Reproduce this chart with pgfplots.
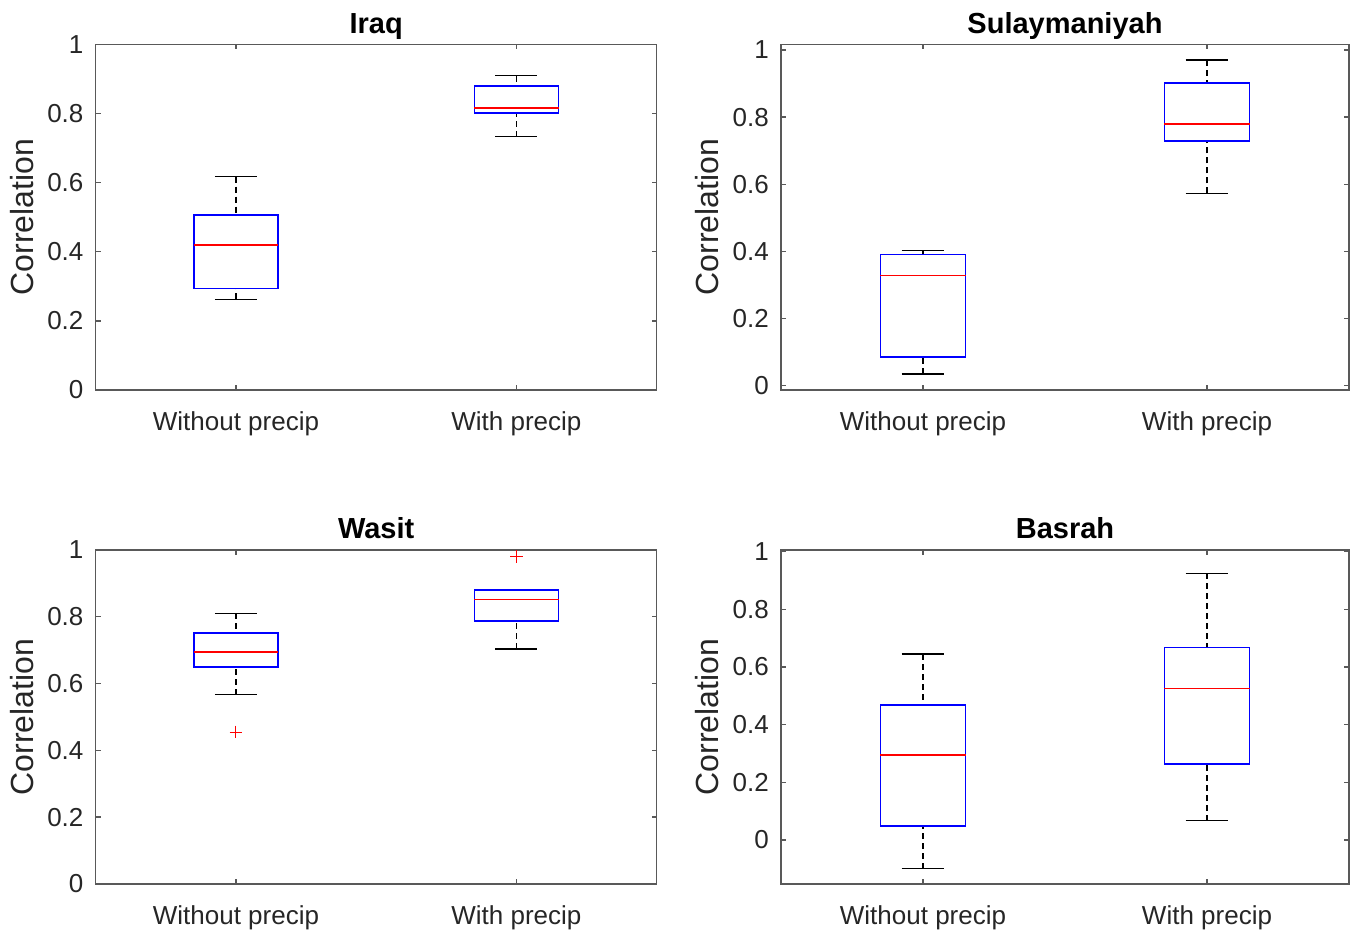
\documentclass[border=0pt]{standalone}
\usepackage{fontspec}
\setmainfont{Liberation Sans}
\usepackage{pgfplots}
\pgfplotsset{compat=1.18}
\usepgfplotslibrary{statistics}
\definecolor{axgray}{gray}{0.35}
\definecolor{txtgray}{gray}{0.15}
\pgfplotsset{
  panel/.style={
    scale only axis,
    xmin=0.5, xmax=2.5,
    xtick={1,2},
    xticklabels={Without precip, With precip},
    ytick={0,0.2,0.4,0.6,0.8,1},
    tick align=inside,
    major tick length=2.6pt,
    axis line style={axgray, line width=0.7pt},
    every tick/.style={axgray, line width=0.7pt},
    /pgf/number format/assume math mode=true,
    tick label style={font=\fontsize{13}{15}\selectfont, text=txtgray},
    xticklabel style={anchor=base, yshift=-20.5pt},
    yticklabel style={anchor=east, xshift=-2.6pt},
    ylabel={Correlation},
    every axis y label/.style={at={(axis description cs:0,0.5)}, xshift=-37pt, rotate=90, anchor=center, font=\fontsize{16}{18}\selectfont, text=txtgray},
    title style={at={(axis description cs:0.5,1)}, anchor=base, yshift=-0.5pt, font=\fontsize{14.5}{16}\selectfont\bfseries, text=black},
    boxplot/draw direction=y,
    boxplot/box extend=0.3,
    boxplot/whisker extend=0.15,
    boxplot/every box/.style={draw=blue, line width=0.75pt},
    boxplot/every median/.style={draw=red, line width=0.8pt},
    boxplot/draw/lower whisker/.code={%
      \draw[black, line width=0.75pt, dash pattern=on 3pt off 2pt]
        (boxplot cs:\pgfplotsboxplotvalue{lower whisker}) -- (boxplot cs:\pgfplotsboxplotvalue{lower quartile});
      \draw[black, line width=0.75pt]
        (boxplot whisker cs:\pgfplotsboxplotvalue{lower whisker},0) -- (boxplot whisker cs:\pgfplotsboxplotvalue{lower whisker},1);
    },
    boxplot/draw/upper whisker/.code={%
      \draw[black, line width=0.75pt, dash pattern=on 3pt off 2pt]
        (boxplot cs:\pgfplotsboxplotvalue{upper whisker}) -- (boxplot cs:\pgfplotsboxplotvalue{upper quartile});
      \draw[black, line width=0.75pt]
        (boxplot whisker cs:\pgfplotsboxplotvalue{upper whisker},0) -- (boxplot whisker cs:\pgfplotsboxplotvalue{upper whisker},1);
    },
  },
  bx/.style={blue, solid, mark=+, mark size=3.2pt, mark options={red, solid, line width=0.5pt}},
}
\begin{document}
\begin{tikzpicture}
\useasboundingbox (0pt,0pt) rectangle (678pt,466pt);

% Iraq
\begin{axis}[panel, at={(47.85pt,271pt)}, anchor=south west, width=280.5pt, height=172.85pt,
  ymin=0, ymax=1, title={Iraq}]
\addplot[bx, boxplot prepared={draw position=1, lower whisker=0.262, lower quartile=0.294, median=0.419, upper quartile=0.506, upper whisker=0.617}] coordinates {};
\addplot[bx, boxplot prepared={draw position=2, lower whisker=0.733, lower quartile=0.801, median=0.815, upper quartile=0.880, upper whisker=0.909}] coordinates {};
\end{axis}

% Sulaymaniyah
\begin{axis}[panel, at={(390.5pt,271pt)}, anchor=south west, width=284pt, height=172.85pt,
  ymin=-0.0128, ymax=1.017, title={Sulaymaniyah}]
\addplot[bx, boxplot prepared={draw position=1, lower whisker=0.035, lower quartile=0.086, median=0.328, upper quartile=0.391, upper whisker=0.402}] coordinates {};
\addplot[bx, boxplot prepared={draw position=2, lower whisker=0.573, lower quartile=0.729, median=0.779, upper quartile=0.901, upper whisker=0.970}] coordinates {};
\end{axis}

% Wasit
\begin{axis}[panel, at={(47.85pt,24pt)}, anchor=south west, width=280.5pt, height=167pt,
  ymin=0, ymax=1, title={Wasit}]
\addplot[bx, boxplot prepared={draw position=1, lower whisker=0.567, lower quartile=0.650, median=0.695, upper quartile=0.751, upper whisker=0.810}] table[row sep=\\, y index=0] {y\\ 0.455\\};
\addplot[bx, boxplot prepared={draw position=2, lower whisker=0.704, lower quartile=0.788, median=0.852, upper quartile=0.880, upper whisker=0.881}] table[row sep=\\, y index=0] {y\\ 0.981\\};
\end{axis}

% Basrah
\begin{axis}[panel, at={(390.5pt,24pt)}, anchor=south west, width=284pt, height=167pt,
  ymin=-0.1526, ymax=1.006, title={Basrah}]
\addplot[bx, boxplot prepared={draw position=1, lower whisker=-0.0995, lower quartile=0.0486, median=0.294, upper quartile=0.468, upper whisker=0.645}] coordinates {};
\addplot[bx, boxplot prepared={draw position=2, lower whisker=0.067, lower quartile=0.263, median=0.525, upper quartile=0.667, upper whisker=0.925}] coordinates {};
\end{axis}
\end{tikzpicture}
\end{document}
